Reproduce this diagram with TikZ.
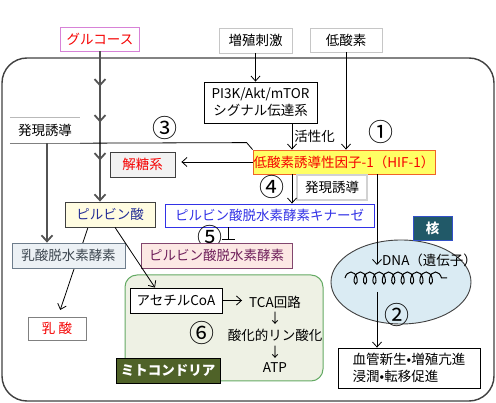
\documentclass[tikz,border=0pt]{standalone}
\usepackage{fontspec}
\setmainfont{Noto Sans CJK JP}
\usepackage{tikz}
\usetikzlibrary{arrows.meta,positioning,calc,backgrounds,shapes.geometric,decorations.pathmorphing,decorations.markings}
\definecolor{hifyellow}{RGB}{255,255,100}
\definecolor{hifborder}{RGB}{240,100,40}
\definecolor{alertred}{RGB}{245,0,0}
\definecolor{glucoseborder}{RGB}{215,130,215}
\definecolor{pyrfill}{RGB}{255,252,225}
\definecolor{pyrtext}{RGB}{35,45,150}
\definecolor{ldhfill}{RGB}{236,241,245}
\definecolor{ldhdraw}{RGB}{110,125,140}
\definecolor{ldhtext}{RGB}{60,70,80}
\definecolor{pdkblue}{RGB}{50,50,230}
\definecolor{pdhfill}{RGB}{252,232,228}
\definecolor{pdhdraw}{RGB}{130,70,110}
\definecolor{pdhtext}{RGB}{110,30,90}
\definecolor{mitofill}{RGB}{238,241,228}
\definecolor{mitodraw}{RGB}{100,170,100}
\definecolor{mitolabel}{RGB}{79,98,40}
\definecolor{nucfill}{RGB}{218,235,243}
\definecolor{kakufill}{RGB}{33,89,104}
\definecolor{kakudraw}{RGB}{50,80,200}

\begin{document}
\begin{tikzpicture}[
    x=1pt, y=-1pt,
    font=\fontsize{13.5}{16}\selectfont,
    plain/.style={rectangle, draw=black, fill=white, line width=.8pt, inner sep=0pt, align=center, minimum height=25pt},
    stimulus/.style={plain, draw=gray!45, minimum width=73pt},
    marker/.style={font=\fontsize{25}{25}\selectfont, inner sep=0pt},
    tag/.style={rectangle, draw=#1, line width=.8pt, text=white, inner sep=0pt, minimum height=24pt, font=\fontsize{13.5}{16}\selectfont\bfseries},
    flow/.style={-{Straight Barb[length=5pt,width=9pt]}, line width=.8pt},
    glyco/.style={-{Straight Barb[length=6pt,width=11pt]}, draw=darkgray!90, line width=1.8pt},
    inhibit/.style={-{Bar[width=13pt]}, line width=.8pt}
]
    \useasboundingbox (0,0) rectangle (496,403);

    % cell, mitochondrion and nucleus
    \draw[darkgray, line width=1.4pt, rounded corners=25pt] (2,58) rectangle (494,401);
    \draw[draw=mitodraw, fill=mitofill, line width=1pt, rounded corners=12pt] (125,275) rectangle (323,381);
    \node[ellipse, draw=darkgray, fill=nucfill, line width=.9pt, minimum width=140pt, minimum height=84pt] (nucleus) at (401,282) {};

    \node[plain, draw=glucoseborder, text=alertred, minimum width=79pt, minimum height=24pt] (glucose) at (100,39) {グルコース};
    \node[stimulus] (prolif) at (255.5,40.5) {増殖刺激};
    \node[stimulus, minimum width=72pt, minimum height=24pt] (hypoxia) at (346,40) {低酸素};
    \node[plain, minimum width=113pt, minimum height=41pt, font=\fontsize{13.5}{17}\selectfont] (pi3k) at (260.5,102.5) {PI3K/Akt/mTOR\\シグナル伝達系};

    \node[plain, draw=hifborder, fill=hifyellow, text=alertred, minimum width=182pt, minimum height=24pt] (hif) at (344,162) {低酸素誘導性因子-1（HIF-1）};
    \node[marker] (m1) at (381,132) {①};
    \node[marker] (m3) at (165,128) {③};

    \node[inner sep=0pt, minimum width=70pt, minimum height=25pt] (expr) at (45,130.5) {発現誘導};
    \draw[gray!55, line width=1pt] (expr.north west) -- (expr.north east);
    \draw[gray, line width=1pt] (expr.south west) -- (expr.south east);

    \node[plain, draw=darkgray, fill=gray!10, text=alertred, minimum width=65pt] (glycolysis) at (142.5,164.5) {解糖系};
    \node[marker] (m4) at (272,187) {④};
    \node[plain, draw=gray!35, line width=1.5pt, minimum width=70pt] (exprb) at (332,187.5) {発現誘導};
    \node[plain, draw=pdkblue, text=pdkblue, minimum width=209pt, minimum height=23pt] (pdk) at (269.5,215.5) {ピルビン酸脱水素酵素キナーゼ};
    \node[marker] (m5) at (210,237) {⑤};

    \node[plain, draw=darkgray, fill=pyrfill, text=pyrtext, minimum width=90pt] (pyruvate) at (110,214.5) {ピルビン酸};
    \node[plain, draw=ldhdraw, fill=ldhfill, text=ldhtext, minimum width=113pt] (ldh) at (68.5,255.5) {乳酸脱水素酵素};
    \node[plain, draw=pdhdraw, fill=pdhfill, text=pdhtext, minimum width=151pt] (pdh) at (216.5,255.5) {ピルビン酸脱水素酵素};
    \node[plain, draw=gray, text=alertred, minimum width=58pt, minimum height=23pt] (lactate) at (57,328.5) {乳 酸};

    \node[plain, minimum width=92pt] (acoa) at (176,300.5) {アセチルCoA};
    \node[inner sep=0pt] (tca) at (275,302) {TCA回路};
    \node[inner sep=0pt] (down1) at (275,318.5) {↓};
    \node[inner sep=0pt] (oxphos) at (275,335) {酸化的リン酸化};
    \node[inner sep=0pt] (down2) at (275,352) {↓};
    \node[inner sep=0pt] (atp) at (275,368) {ATP};
    \node[marker] (m6) at (202,333) {⑥};
    \node[tag=black, fill=mitolabel, minimum width=104pt, minimum height=25pt] (mitotag) at (168,370.5) {ミトコンドリア};

    \node[tag=kakudraw, fill=kakufill, minimum width=39pt] (kaku) at (432.5,228) {核};
    \node[inner sep=0pt, anchor=west] (dna) at (382,260) {DNA（遺伝子）};
    \draw[line width=1pt, decorate, decoration={coil, amplitude=6pt, segment length=9.4pt, aspect=0.6}] (345,278) -- (447,278);
    \node[marker] (m2) at (397,315) {②};
    \node[plain, align=left, minimum width=142pt, minimum height=40pt, font=\fontsize{13.5}{17}\selectfont] (result) at (409,368) {血管新生•増殖亢進\\浸潤•転移促進};

    \coordinate (branch) at ([xshift=2pt]expr.south);
    \coordinate (dnain) at (377,265);
    \coordinate (geneout) at (377,292);

    % connectors
    \draw[glyco, postaction={decorate}, decoration={markings,
        mark=at position 35pt with {\arrow{Straight Barb[length=6pt,width=11pt]}},
        mark=at position 71pt with {\arrow{Straight Barb[length=6pt,width=11pt]}},
        mark=at position 109pt with {\arrow{Straight Barb[length=6pt,width=11pt]}}}]
        (glucose.south) -- (glucose.south |- pyruvate.north);
    \draw[flow] (prolif.south) -- (prolif.south |- pi3k.north);
    \draw[flow] ([xshift=31.5pt]pi3k.south) -- node[right, inner sep=2pt] {活性化} ([xshift=31.5pt]pi3k.south |- hif.north);
    \draw[flow] (hypoxia.south) -- (hypoxia.south |- hif.north);
    \draw[line width=.8pt] (hif.north west) -- ++(-6,-7) -- (expr.south east);
    \draw[glyco] (branch) -- (branch |- ldh.north);
    \draw[flow, shorten >=6pt] (hif.west) -- (hif.west -| glycolysis.east);
    \draw[flow] ([xshift=-52pt]hif.south) -- ([xshift=-52pt]hif.south |- pdk.north);
    \draw[flow] ([xshift=33pt]hif.south) -- (dnain);
    \draw[inhibit] ([xshift=-41.5pt]pdk.south) -- ++(0,12);
    \begin{scope}[on background layer]
        \draw[flow, shorten >=7pt] ([xshift=-22pt]pyruvate.south) -- ([xshift=1pt]lactate.north);
    \end{scope}
    \draw[flow] ([xshift=5pt]pyruvate.south) -- ([xshift=-21pt]acoa.north);
    \draw[flow, shorten >=7pt] (acoa.east) -- (acoa.east -| tca.west);
    \draw[flow] (geneout) -- (geneout |- result.north);

\end{tikzpicture}
\end{document}
